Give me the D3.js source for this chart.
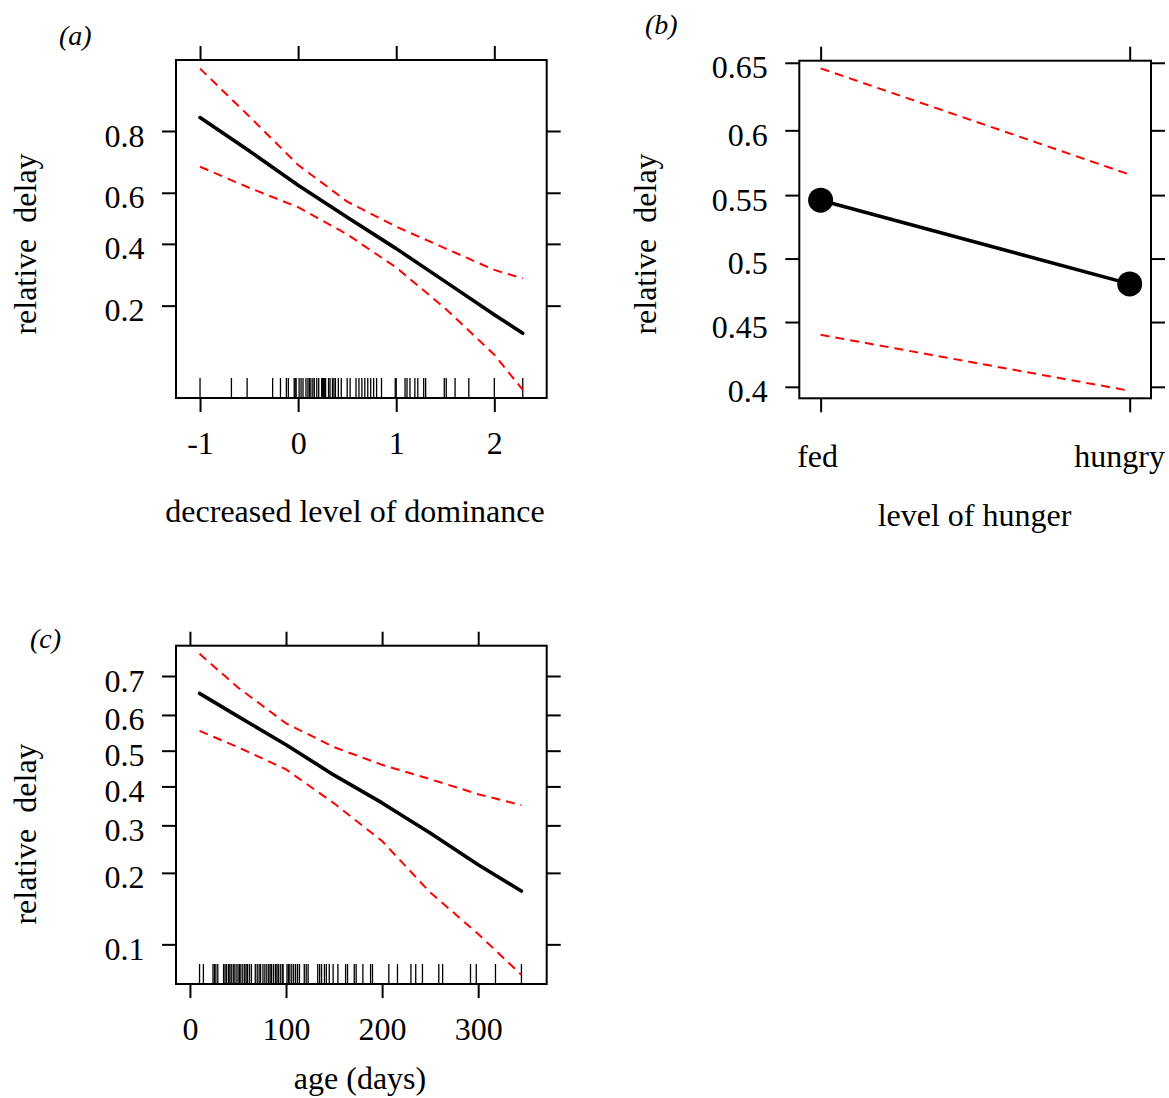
<!DOCTYPE html>
<html>
<head>
<meta charset="utf-8">
<script src="https://cdn.jsdelivr.net/npm/d3@7"></script>
<style>
  html, body { margin: 0; padding: 0; background: #fff; }
  svg { display: block; font-family: "Liberation Serif", "Times New Roman", serif; }
</style>
</head>
<body>
<svg id="fig" width="1169" height="1098"></svg>
<script>
// ---------- (a) decreased level of dominance ----------
const dominanceX     = [-1, -0.5, 0, 0.5, 1, 1.5, 2, 2.29];
const dominanceFit   = [0.832, 0.745, 0.628, 0.504, 0.382, 0.268, 0.178, 0.139];
const dominanceLower = [0.694, 0.619, 0.544, 0.437, 0.314, 0.193, 0.103, 0.0616];
const dominanceUpper = [0.915, 0.835, 0.700, 0.566, 0.467, 0.383, 0.306, 0.278];
const dominanceRug = [-1, -0.68, -0.52, -0.26, -0.18, -0.12, -0.10, -0.04, -0.03, -0.02,
  0.01, 0.03, 0.05, 0.08, 0.10, 0.115, 0.13, 0.15, 0.165, 0.19, 0.21, 0.24, 0.25, 0.26,
  0.27, 0.28, 0.31, 0.325, 0.35, 0.365, 0.38, 0.41, 0.44, 0.50, 0.53, 0.59, 0.62, 0.65,
  0.68, 0.71, 0.74, 0.77, 0.80, 0.85, 0.99, 1.00, 1.09, 1.11, 1.14, 1.19, 1.22, 1.28,
  1.30, 1.49, 1.51, 1.60, 1.74, 2.00, 2.29];
const dominanceXTicks = [-1, 0, 1, 2];
const dominanceYTicks = [0.2, 0.4, 0.6, 0.8];

// ---------- (b) level of hunger ----------
const hungerLevels = ["fed", "hungry"];
const hungerFit    = [0.546, 0.480];
const hungerLower  = [0.440, 0.397];
const hungerUpper  = [0.646, 0.566];
const hungerYTicks = [0.4, 0.45, 0.5, 0.55, 0.6, 0.65];

// ---------- (c) age (days) ----------
const ageX     = [10, 50, 100, 150, 200, 250, 300, 345];
const ageFit   = [0.657, 0.596, 0.517, 0.431, 0.356, 0.282, 0.215, 0.169];
const ageLower = [0.556, 0.510, 0.447, 0.355, 0.264, 0.167, 0.111, 0.0729];
const ageUpper = [0.750, 0.672, 0.577, 0.510, 0.460, 0.420, 0.379, 0.350];
const ageRug = [10, 14, 24, 25.5, 27, 29, 35, 36.5, 38, 40, 41.5, 43, 45, 46, 48, 50, 51.5,
  53, 55, 57, 58.5, 60, 62, 64, 68, 70, 72, 73.5, 76, 78, 80, 82, 83.5, 85, 87, 89, 90.5,
  92, 94, 96, 97, 101, 102.5, 104, 106, 108, 110, 112, 114, 119, 121, 123, 133, 135, 137,
  140, 142, 145, 149, 154, 162, 164, 171, 173, 180, 188, 190, 207, 216, 230, 235, 242, 259,
  263, 292, 298, 318, 345];
const ageXTicks = [0, 100, 200, 300];
const ageYTicks = [0.1, 0.2, 0.3, 0.4, 0.5, 0.6, 0.7];

// ---------- drawing ----------
const W = 1169;
const FONT = 32;
const TICK = 14;
const logit = p => Math.log(p / (1 - p));
const svg = d3.select("#fig");

function styleAxis(sel) {
  sel.select(".domain").remove();
  sel.selectAll(".tick line").attr("stroke", "#000").attr("stroke-width", 2);
  sel.selectAll(".tick text").attr("fill", "#000").attr("font-size", FONT)
     .attr("font-family", "Liberation Serif, Times New Roman, serif");
}

// Framed panel with ticks on all four sides, labels on the left and bottom.
function framePanel(box, x, yLin, xTickValues, xFormat, yTicks, xPad) {
  const g = svg.append("g");
  const yVals = yTicks.map(logit);

  g.append("g").attr("transform", `translate(0,${box.y1})`)
    .call(d3.axisBottom(x).tickValues(xTickValues).tickSize(TICK).tickPadding(xPad).tickFormat(xFormat))
    .call(styleAxis);
  g.append("g").attr("transform", `translate(0,${box.y0})`)
    .call(d3.axisTop(x).tickValues(xTickValues).tickSize(TICK).tickFormat(""))
    .call(styleAxis);
  g.append("g").attr("transform", `translate(${box.x0},0)`)
    .call(d3.axisLeft(yLin).tickValues(yVals).tickSize(TICK).tickPadding(17.5)
      .tickFormat((d, i) => String(yTicks[i])))
    .call(styleAxis)
    .call(a => a.selectAll(".tick text").attr("dy", "0.47em"));
  g.append("g").attr("transform", `translate(${box.x1},0)`)
    .call(d3.axisRight(yLin).tickValues(yVals).tickSize(TICK).tickFormat(""))
    .call(styleAxis);

  g.append("rect")
    .attr("x", box.x0).attr("y", box.y0)
    .attr("width", box.x1 - box.x0).attr("height", box.y1 - box.y0)
    .attr("fill", "none").attr("stroke", "#000").attr("stroke-width", 2);
  return g;
}

function drawCurves(g, xs, fit, lower, upper, x, yp) {
  const line = d3.line().x(d => x(d[0])).y(d => yp(d[1]));
  [lower, upper].forEach(band => {
    g.append("path")
      .attr("d", line(xs.map((v, i) => [v, band[i]])))
      .attr("fill", "none").attr("stroke", "#ff0000")
      .attr("stroke-width", 2).attr("stroke-dasharray", "9,6");
  });
  g.append("path")
    .attr("d", line(xs.map((v, i) => [v, fit[i]])))
    .attr("fill", "none").attr("stroke", "#000")
    .attr("stroke-width", 3.6).attr("stroke-linejoin", "round").attr("stroke-linecap", "round");
}

function drawRug(g, values, x, box) {
  g.append("g").selectAll("line").data(values).join("line")
    .attr("x1", d => x(d)).attr("x2", d => x(d))
    .attr("y1", box.y1).attr("y2", box.y1 - 20)
    .attr("stroke", "#000").attr("stroke-width", 1.3);
}

function text(str, x, y, opts = {}) {
  const t = svg.append("text")
    .attr("font-size", opts.size || FONT)
    .attr("fill", "#000")
    .attr("text-anchor", opts.anchor || "middle")
    .style("white-space", "pre")
    .text(str);
  if (opts.rotate) t.attr("transform", `translate(${x},${y}) rotate(-90)`);
  else t.attr("x", x).attr("y", y);
  if (opts.italic) t.attr("font-style", "italic");
  return t;
}

// ----- panel (a)
{
  const box = { x0: 176, x1: 546.7, y0: 60, y1: 398 };
  const x = d3.scaleLinear().domain([-1.245, 2.534]).range([box.x0, box.x1]);
  const yLin = d3.scaleLinear().domain([-2.852, 2.513]).range([box.y1, box.y0]);
  const yp = p => yLin(logit(p));
  const g = framePanel(box, x, yLin, dominanceXTicks, d => String(d), dominanceYTicks, 19.3);
  drawRug(g, dominanceRug, x, box);
  drawCurves(g, dominanceX, dominanceFit, dominanceLower, dominanceUpper, x, yp);
  text("decreased level of dominance", 355, 522);
  text("relative  delay", 36, 244, { rotate: true });
  text("(a)", 59, 45, { anchor: "start", italic: true, size: 28 });
}

// ----- panel (b)
{
  const box = { x0: 799.3, x1: 1151, y0: 60.7, y1: 398.3 };
  const x = d3.scalePoint().domain(hungerLevels).range([box.x0, box.x1]).padding(0.069);
  const yLin = d3.scaleLinear().domain([-0.4418, 0.6256]).range([box.y1, box.y0]);
  const yp = p => yLin(logit(p));
  const g = framePanel(box, x, yLin, hungerLevels, d => d, hungerYTicks, 32);
  // keep the category labels inside the canvas
  g.selectAll("text").filter(function () { return hungerLevels.includes(this.textContent); })
    .each(function () {
      const w = this.getComputedTextLength();
      const tr = this.parentNode.getAttribute("transform");
      const cx = +tr.match(/translate\(([-\d.]+)/)[1];
      const over = cx + w / 2 - (W - 4);
      d3.select(this).attr("x", over > 0 ? -over : -3.5);
    });
  const line = d3.line().x(d => x(d[0])).y(d => yp(d[1]));
  [hungerLower, hungerUpper].forEach(band => {
    g.append("path")
      .attr("d", line(hungerLevels.map((v, i) => [v, band[i]])))
      .attr("fill", "none").attr("stroke", "#ff0000")
      .attr("stroke-width", 2).attr("stroke-dasharray", "9,6");
  });
  g.append("path")
    .attr("d", line(hungerLevels.map((v, i) => [v, hungerFit[i]])))
    .attr("fill", "none").attr("stroke", "#000").attr("stroke-width", 3.6);
  g.selectAll("circle.pt").data(hungerLevels).join("circle")
    .attr("class", "pt")
    .attr("cx", d => x(d)).attr("cy", (d, i) => yp(hungerFit[i]))
    .attr("r", 12.5).attr("fill", "#000");
  text("level of hunger", 974.5, 526);
  text("relative  delay", 656, 244, { rotate: true });
  text("(b)", 645, 34, { anchor: "start", italic: true, size: 28 });
}

// ----- panel (c)
{
  const box = { x0: 176, x1: 546.7, y0: 645.7, y1: 984 };
  const x = d3.scaleLinear().domain([-14.5, 371.3]).range([box.x0, box.x1]);
  const yLin = d3.scaleLinear().domain([-2.647, 1.191]).range([box.y1, box.y0]);
  const yp = p => yLin(logit(p));
  const g = framePanel(box, x, yLin, ageXTicks, d => String(d), ageYTicks, 19.3);
  drawRug(g, ageRug, x, box);
  drawCurves(g, ageX, ageFit, ageLower, ageUpper, x, yp);
  text("age (days)", 360, 1089);
  text("relative  delay", 36, 834, { rotate: true });
  text("(c)", 30, 648, { anchor: "start", italic: true, size: 28 });
}
</script>
</body>
</html>
